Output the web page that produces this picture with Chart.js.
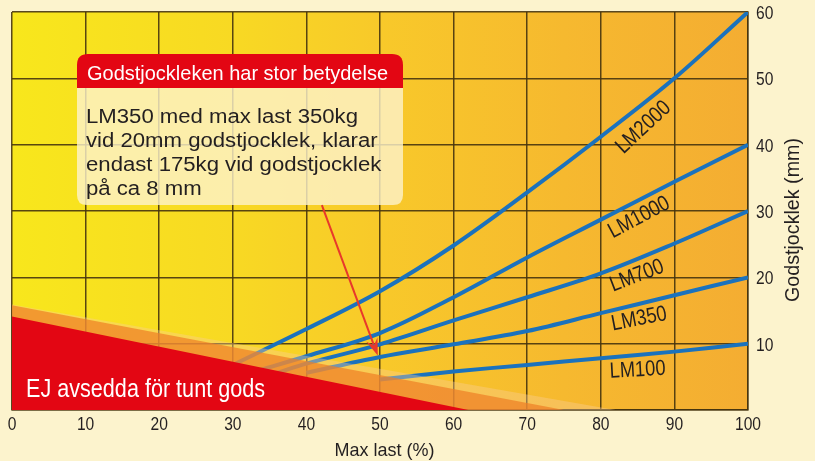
<!DOCTYPE html>
<html>
<head>
<meta charset="utf-8">
<script src="https://cdn.jsdelivr.net/npm/chart.js@4"></script>
<style>
  html, body { margin: 0; padding: 0; background: #fcf3cd; }
  canvas { display: block; }
</style>
</head>
<body>
<canvas id="chart" width="815" height="461"></canvas>
<script>
// Axis ticks
const xTicks = [0, 10, 20, 30, 40, 50, 60, 70, 80, 90, 100];
const yTicks = [10, 20, 30, 40, 50, 60];

// Curves: max load (%) -> material thickness (mm)
const lm2000X = [30, 40, 50, 60, 70, 80, 90, 100];
const lm2000Y = [6.8, 12.2, 17.9, 24.8, 32.8, 41.2, 50, 60];
const lm1000X = [33, 40, 50, 60, 70, 80, 90, 100];
const lm1000Y = [5.8, 8.1, 11.6, 17.0, 23, 28.7, 34.4, 40];
const lm700X = [36, 40, 50, 60, 70, 80, 90, 100];
const lm700Y = [5.6, 7.0, 9.9, 13.5, 17, 20.6, 25.1, 30];
const lm350X = [40, 50, 60, 70, 80, 90, 100];
const lm350Y = [5.6, 8.0, 9.9, 11.9, 14.6, 17.3, 20];
const lm100X = [50, 60, 70, 80, 90, 100];
const lm100Y = [4.6, 5.8, 6.8, 7.8, 8.8, 10];

// "not for thin material" zone (edge of the red wedge and its fade)
const zoneX = [0, 62];
const zoneY = [14.1, 0];
const fadeX = [0, 75];
const fadeY = [15.8, 0];
const glowX = [0, 82];
const glowY = [15.9, 0];

// Arrow from the note to LM350 at 50 %
const arrowX = [42.1, 49.7];
const arrowY = [30.9, 8.2];

const noteTitle = "Godstjockleken har stor betydelse";
const noteLines = [
  "LM350 med max last 350kg",
  "vid 20mm godstjocklek, klarar",
  "endast 175kg vid godstjocklek",
  "på ca 8 mm"
];
const zoneText = "EJ avsedda för tunt gods";
const xTitle = "Max last (%)";
const yTitle = "Godstjocklek (mm)";

const FONT = "'Liberation Sans', Arial, Helvetica, sans-serif";
const BLUE = "#1b72bd";
const GRID = "rgba(70, 52, 14, 0.9)";
const INK = "#231f20";

const pts = (xs, ys) => xs.map((x, i) => ({ x: x, y: ys[i] }));

const curve = (label, xs, ys) => ({
  label: label,
  data: pts(xs, ys),
  borderColor: BLUE,
  borderWidth: 4,
  pointRadius: 0,
  fill: false,
  tension: 0.35,
  order: 5
});

const band = (xs, ys, color, order) => ({
  data: pts(xs, ys),
  borderWidth: 0,
  pointRadius: 0,
  backgroundColor: color,
  fill: "origin",
  tension: 0,
  order: order
});

// curve name placement (value space) and rotation
const curveLabels = [
  { text: "LM2000", x: 85.8, y: 42.6, deg: -43 },
  { text: "LM1000", x: 85.2, y: 29.0, deg: -28 },
  { text: "LM700", x: 84.9, y: 20.2, deg: -21 },
  { text: "LM350", x: 85.2, y: 13.7, deg: -11 },
  { text: "LM100", x: 85.0, y: 6.0, deg: -3 }
];

// horizontal squeeze so that a sample text gets the width seen in the picture
const squeeze = (ctx, font, sample, width) => {
  ctx.font = font;
  return width / ctx.measureText(sample).width;
};

const drawText = (ctx, text, x, y, sx, rot) => {
  ctx.save();
  ctx.translate(x, y);
  if (rot) ctx.rotate(rot);
  ctx.scale(sx, 1);
  ctx.fillText(text, 0, 0);
  ctx.restore();
};

//Background of the plot area
const plotBg = {
  id: "plotBg",
  beforeDraw(chart) {
    const { ctx, chartArea: a } = chart;
    const g = ctx.createLinearGradient(a.left, 0, a.right, 0);
    g.addColorStop(0, "#f8e71c");
    g.addColorStop(0.3, "#f8d923");
    g.addColorStop(0.5, "#f8c92a");
    g.addColorStop(0.75, "#f6b92f");
    g.addColorStop(1, "#f4ad32");
    ctx.save();
    ctx.fillStyle = g;
    ctx.fillRect(a.left, a.top, a.right - a.left, a.bottom - a.top);
    ctx.restore();
  }
};

const roundRect = (ctx, x, y, w, h, r) => {
  ctx.beginPath();
  ctx.moveTo(x + r[0], y);
  ctx.lineTo(x + w - r[1], y);
  ctx.quadraticCurveTo(x + w, y, x + w, y + r[1]);
  ctx.lineTo(x + w, y + h - r[2]);
  ctx.quadraticCurveTo(x + w, y + h, x + w - r[2], y + h);
  ctx.lineTo(x + r[3], y + h);
  ctx.quadraticCurveTo(x, y + h, x, y + h - r[3]);
  ctx.lineTo(x, y + r[0]);
  ctx.quadraticCurveTo(x, y, x + r[0], y);
  ctx.closePath();
};

//Texts, note box and arrow on top of the data
const overlay = {
  id: "overlay",
  afterDatasetsDraw(chart) {
    const { ctx, scales: { x, y } } = chart;
    ctx.save();

    // curve names
    let f = "22px " + FONT;
    let sx = squeeze(ctx, f, "LM100", 56);
    ctx.fillStyle = INK;
    ctx.textAlign = "center";
    ctx.textBaseline = "middle";
    curveLabels.forEach((l) => {
      drawText(ctx, l.text, x.getPixelForValue(l.x), y.getPixelForValue(l.y), sx, (l.deg * Math.PI) / 180);
    });

    // zone text
    ctx.textAlign = "left";
    ctx.textBaseline = "alphabetic";
    f = "25px " + FONT;
    sx = squeeze(ctx, f, zoneText, 239);
    ctx.fillStyle = "#ffffff";
    drawText(ctx, zoneText, 26, 396.5, sx);

    // note box
    const bx = 77, bw = 326;
    ctx.fillStyle = "rgba(253, 242, 205, 0.8)";
    roundRect(ctx, bx, 88, bw, 117, [0, 0, 10, 10]);
    ctx.fill();
    ctx.fillStyle = "#e30613";
    roundRect(ctx, bx, 54, bw, 34, [11, 11, 0, 0]);
    ctx.fill();
    f = "21px " + FONT;
    sx = squeeze(ctx, f, noteTitle, 301);
    ctx.fillStyle = "#ffffff";
    drawText(ctx, noteTitle, 87, 80, sx);
    f = "20px " + FONT;
    sx = squeeze(ctx, f, noteLines[0], 272);
    ctx.fillStyle = INK;
    noteLines.forEach((t, i) => drawText(ctx, t, 86, 122.5 + i * 24, sx));

    // arrow
    const x0 = x.getPixelForValue(arrowX[0]), y0 = y.getPixelForValue(arrowY[0]);
    const x1 = x.getPixelForValue(arrowX[1]), y1 = y.getPixelForValue(arrowY[1]);
    const c = Math.cos(Math.atan2(y1 - y0, x1 - x0)), s = Math.sin(Math.atan2(y1 - y0, x1 - x0));
    ctx.strokeStyle = "#e8392b";
    ctx.fillStyle = "#e8392b";
    ctx.lineWidth = 2;
    ctx.beginPath();
    ctx.moveTo(x0, y0);
    ctx.lineTo(x1 - 12 * c, y1 - 12 * s);
    ctx.stroke();
    ctx.beginPath();
    ctx.moveTo(x1, y1);
    ctx.lineTo(x1 - 17 * c + 6 * s, y1 - 17 * s - 6 * c);
    ctx.lineTo(x1 - 11 * c, y1 - 11 * s);
    ctx.lineTo(x1 - 17 * c - 6 * s, y1 - 17 * s + 6 * c);
    ctx.closePath();
    ctx.fill();

    ctx.restore();
  },
  afterDraw(chart) {
    const { ctx, scales: { x, y } } = chart;
    ctx.save();
    ctx.fillStyle = INK;
    ctx.textBaseline = "alphabetic";

    // tick labels
    let f = "18px " + FONT;
    let sx = squeeze(ctx, f, "100", 26);
    ctx.textAlign = "center";
    xTicks.forEach((v) => drawText(ctx, String(v), x.getPixelForValue(v), 430, sx));
    ctx.textAlign = "left";
    yTicks.forEach((v) => drawText(ctx, String(v), 756, y.getPixelForValue(v) + 7, sx));

    // axis titles
    f = "19px " + FONT;
    sx = squeeze(ctx, f, xTitle, 100);
    ctx.textAlign = "center";
    drawText(ctx, xTitle, 384.5, 456, sx);

    f = "20px " + FONT;
    sx = squeeze(ctx, f, yTitle, 164);
    drawText(ctx, yTitle, 799, 220, sx, -Math.PI / 2);
    ctx.restore();
  }
};

new Chart(document.getElementById("chart"), {
  type: "line",
  data: {
    datasets: [
      band(zoneX, zoneY, "#e30613", 0),
      band(fadeX, fadeY, "rgba(238, 128, 38, 0.72)", 1),
      band(glowX, glowY, "rgba(250, 205, 150, 0.4)", 2),
      curve("LM2000", lm2000X, lm2000Y),
      curve("LM1000", lm1000X, lm1000Y),
      curve("LM700", lm700X, lm700Y),
      curve("LM350", lm350X, lm350Y),
      curve("LM100", lm100X, lm100Y)
    ]
  },
  options: {
    responsive: false,
    animation: false,
    layout: { padding: { left: 12, top: 12, right: 0, bottom: 0 } },
    plugins: {
      legend: { display: false },
      tooltip: { enabled: false },
      filler: { drawTime: "beforeDatasetDraw" }
    },
    scales: {
      x: {
        type: "linear",
        position: "bottom",
        min: 0,
        max: 100,
        afterBuildTicks: (s) => { s.ticks = xTicks.map((v) => ({ value: v })); },
        afterFit: (s) => { s.height = 51; },
        ticks: { display: false },
        grid: { color: GRID, lineWidth: 1.5, drawTicks: false },
        border: { display: true, color: GRID, width: 1.5 }
      },
      y: {
        type: "linear",
        position: "right",
        min: 0,
        max: 60,
        afterBuildTicks: (s) => { s.ticks = [0].concat(yTicks).map((v) => ({ value: v })); },
        afterFit: (s) => { s.width = 67; },
        ticks: { display: false },
        grid: { color: GRID, lineWidth: 1.5, drawTicks: false },
        border: { display: true, color: GRID, width: 1.5 }
      }
    }
  },
  plugins: [plotBg, overlay]
});
</script>
</body>
</html>
